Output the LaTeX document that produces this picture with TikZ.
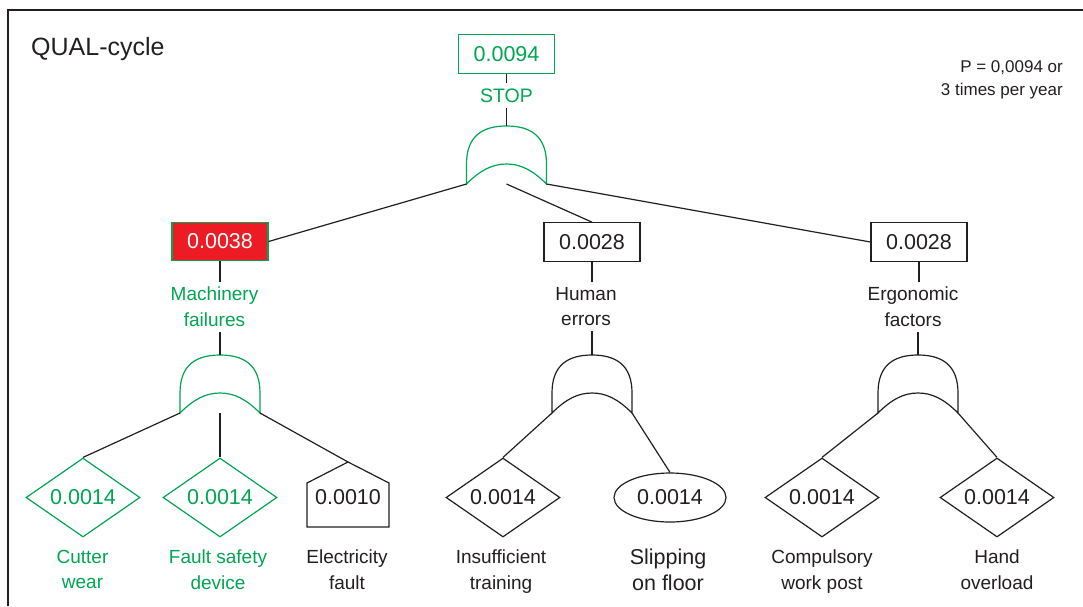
\documentclass[tikz,border=0pt]{standalone}
\usepackage{fontspec}
\setmainfont{Liberation Sans}
\usetikzlibrary{shapes.geometric}
\definecolor{qgreen}{RGB}{0,166,81}
\definecolor{qred}{RGB}{237,28,36}
\definecolor{qdark}{RGB}{35,31,32}
\tikzset{
  orgate/.pic={
    \draw[line width=1.2pt] (-40,0) -- (-40,-20)
      .. controls (-40,-48) and (-24,-58) .. (0,-58)
      .. controls (24,-58) and (40,-48) .. (40,-20) -- (40,0)
      .. controls (26,-14) and (14,-20) .. (0,-20)
      .. controls (-14,-20) and (-26,-14) .. (-40,0) -- cycle;
    \coordinate (-top) at (0,-58);
    \coordinate (-left) at (-40,0);
    \coordinate (-right) at (40,0);
    \coordinate (-mid) at (0,0);
  }
}
\begin{document}
\begin{tikzpicture}[x=1pt,y=-1pt,
  every node/.style={text=qdark},
  conn/.style={draw=qdark,line width=1.2pt},
  numfont/.style={font=\fontsize{21.5}{26}\selectfont},
  valbox/.style={numfont,rectangle,draw=qdark,line width=1.2pt,minimum width=96pt,minimum height=38.5pt,inner sep=0pt},
  evt/.style={numfont,diamond,aspect=1.45,draw=qdark,line width=1.2pt,minimum width=114pt,minimum height=79pt,inner sep=0pt},
  lbl/.style={align=center,font=\fontsize{19}{25.5}\selectfont,inner sep=0pt},
  midlbl/.style={lbl,anchor=north,inner ysep=5pt},
  botlbl/.style={lbl,anchor=north},
  greenthing/.style={draw=qgreen,text=qgreen}
]
\useasboundingbox (0,0) rectangle (1083,606);

% frame
\draw[qdark,line width=1.8pt] (8,606) -- (8,10) -- (1083,10);

% titles
\node[anchor=base west,inner sep=0pt,font=\fontsize{25}{30}\selectfont] (title) at (31,55) {QUAL-cycle};
\node[anchor=north east,align=right,inner sep=0pt,font=\fontsize{17}{23}\selectfont] (note) at (1063,60.5) {P = 0,0094 or\\3 times per year};

% top event
\node[valbox,greenthing] (top) at (506.5,54) {0.0094};
\node[lbl,anchor=north,inner ysep=5.5pt,text=qgreen,font=\fontsize{19.5}{24}\selectfont] (stop) at (506.5,83) {STOP};
\pic[draw=qgreen] (g0) at (506.5,184) {orgate};
\draw[conn] (top.south) -- (stop.north);
\draw[conn] (stop.south) -- (g0-top);

% intermediate events
\node[valbox,draw=qgreen,fill=qred,text=white] (mach) at (220,241.5) {0.0038};
\node[valbox] (human) at (592,242) {0.0028};
\node[valbox] (ergo) at (919,242) {0.0028};

\draw[conn] (g0-left) -- (mach.east);
\draw[conn] (g0-mid) -- (human.north);
\draw[conn] (g0-right) -- (ergo.west);

\node[midlbl,text=qgreen] (machlbl) at (214.5,282) {Machinery\\failures};
\node[midlbl] (humanlbl) at (586,282) {Human\\errors};
\node[midlbl] (ergolbl) at (913,282) {Ergonomic\\factors};

\pic[draw=qgreen] (g1) at (220,413) {orgate};
\pic[draw=qdark] (g2) at (592,413) {orgate};
\pic[draw=qdark] (g3) at (918,413) {orgate};

\draw[conn] (mach.south) -- (mach.south |- machlbl.north);
\draw[conn] (g1-top |- machlbl.south) -- (g1-top);
\draw[conn] (human.south) -- (human.south |- humanlbl.north);
\draw[conn] (g2-top |- humanlbl.south) -- (g2-top);
\draw[conn] (ergo.south) -- (ergo.south |- ergolbl.north);
\draw[conn] (g3-top |- ergolbl.south) -- (g3-top);

% basic events
\node[evt,greenthing] (cutter) at (83,497.5) {0.0014};
\node[evt,greenthing] (fault) at (220,497.5) {0.0014};
\node[numfont,inner sep=0pt] (elec) at (348,497.5) {0.0010};
\coordinate (elecapex) at (348,462);
\draw[qdark,line width=1.2pt] (307,527) -- (307,483) -- (elecapex) -- (389,483) -- (389,527) -- cycle;
\node[evt] (insuf) at (503,497.5) {0.0014};
\node[numfont,ellipse,draw=qdark,line width=1.2pt,minimum width=112pt,minimum height=49pt,inner sep=0pt] (slip) at (670,497.5) {0.0014};
\node[evt] (comp) at (822,497.5) {0.0014};
\node[evt] (hand) at (997,497.5) {0.0014};

\draw[conn] (g1-left) -- (cutter.north);
\draw[conn] (g1-mid) -- (fault.north);
\draw[conn] (g1-right) -- (elecapex);
\draw[conn] (g2-left) -- (insuf.north);
\draw[conn] (g2-right) -- (slip.north);
\draw[conn] (g3-left) -- (comp.north);
\draw[conn] (g3-right) -- (hand.north);

% bottom labels
\node[botlbl,text=qgreen] (cutterlbl) at (82.5,550) {Cutter\\wear};
\node[botlbl,text=qgreen] (faultlbl) at (218,550) {Fault safety\\device};
\node[botlbl] (eleclbl) at (347,550) {Electricity\\fault};
\node[botlbl] (insuflbl) at (501,550) {Insufficient\\training};
\node[botlbl,font=\fontsize{21.5}{26}\selectfont] (sliplbl) at (668,549) {Slipping\\on floor};
\node[botlbl] (complbl) at (822,550) {Compulsory\\work post};
\node[botlbl] (handlbl) at (997,550) {Hand\\overload};
\end{tikzpicture}
\end{document}
